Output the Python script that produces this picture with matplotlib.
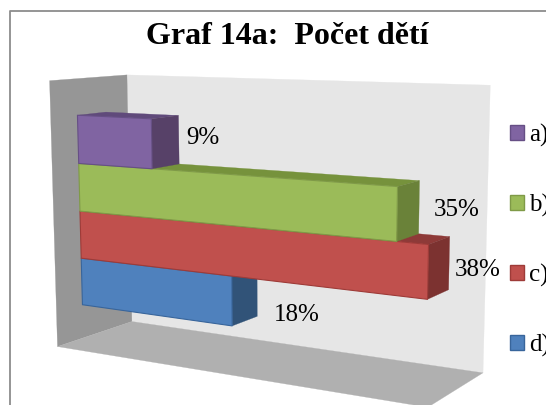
import numpy as np
import matplotlib
matplotlib.use("Agg")
import matplotlib.pyplot as plt
from matplotlib.patches import Polygon, Rectangle

# ---- data ----
title = "Graf 14a:  Počet dětí"
categories = ["d)", "c)", "b)", "a)"]
values = [18, 38, 35, 9]
axis_max = 40

# ---- styles ----
front_cols = ["#4F81BD", "#C0504D", "#9BBB59", "#8064A2"]
top_cols = ["#3A5F8C", "#8E3A38", "#76923C", "#604A7B"]
side_cols = ["#315378", "#7C3230", "#6A8239", "#574168"]
edge_cols = ["#38659B", "#9E3B38", "#7F9A47", "#664F85"]
label_xy = [(297, 315), (478, 270), (457, 210), (203, 138)]
legend_y = [335, 265, 195, 125]

# ---- camera: world (value, height, depth) -> pixel, fitted from wall / box corners ----
H0, H1 = -0.72, 4.75
D0, D1 = 0.33, 0.70
calib = [
    ((0, H0, 0), (59, 346)), ((0, H1, 0), (51, 80)),
    ((0, H0, 1), (132, 322)), ((0, H1, 1), (127, 75)),
    ((axis_max, H1, 1), (490, 86)), ((axis_max, H0, 1), (481, 372)),
    ((axis_max, H0, 0), (428, 409)),
    ((38, 1, D0), (428, 299)), ((38, 2, D0), (427, 244)),
    ((35, 2, D0), (396, 241)), ((35, 3, D0), (396, 187)),
    ((18, 0, D0), (232, 325)), ((9, 4, D0), (150.5, 120)), ((9, 3, D0), (150.5, 169)),
    ((38, 1, D1), (451, 290)), ((38, 2, D1), (451, 235)),
    ((35, 3, D1), (421, 181)), ((18, 0, D1), (258, 317)),
    ((9, 4, D1), (180, 115)), ((0, 4, D0), (77, 115)), ((0, 0, D0), (81, 305)),
    ((0, 4, D1), (105, 112)),
]
A = []
for (w, p) in calib:
    X = [w[0], w[1], w[2], 1.0]
    A.append(X + [0, 0, 0, 0] + [-p[0] * c for c in X])
    A.append([0, 0, 0, 0] + X + [-p[1] * c for c in X])
P = np.linalg.svd(np.array(A, float))[2][-1].reshape(3, 4)


def pr(v, h, d):
    q = P @ np.array([v, h, d, 1.0])
    return (q[0] / q[2], q[1] / q[2])


fig = plt.figure(figsize=(5.46, 4.05), dpi=100, facecolor="white")
ax = fig.add_axes([0, 0, 1, 1])
ax.set_xlim(0, 546)
ax.set_ylim(405, 0)
ax.axis("off")
serif = "Liberation Serif"


def poly(pts, fc, ec=None, z=1):
    ax.add_patch(Polygon(pts, closed=True, facecolor=fc, edgecolor=ec or fc,
                         linewidth=0.8 if ec else 0.2, zorder=z, joinstyle="round"))


# frame
ax.plot([10, 10, 546], [405, 11, 11], color="#8C8C8C", lw=1.3, zorder=0.5)

# walls
poly([pr(0, H0, 1), pr(0, H1, 1), pr(axis_max, H1, 1), pr(axis_max, H0, 1)], "#E6E6E6")
poly([pr(0, H0, 0), pr(0, H1, 0), pr(0, H1, 1), pr(0, H0, 1)], "#969696")
poly([pr(0, H0, 0), pr(0, H0, 1), pr(axis_max, H0, 1), pr(axis_max, H0, 0)], "#B0B0B0")

# bars, bottom up
for i, v in enumerate(values):
    z = 2 + i
    poly([pr(0, i + 1, D0), pr(v, i + 1, D0), pr(v, i + 1, D1), pr(0, i + 1, D1)], top_cols[i], z=z)
    poly([pr(v, i, D0), pr(v, i + 1, D0), pr(v, i + 1, D1), pr(v, i, D1)], side_cols[i], z=z)
    poly([pr(0, i, D0), pr(0, i + 1, D0), pr(v, i + 1, D0), pr(v, i, D0)], front_cols[i], edge_cols[i], z=z + 0.5)

# labels
for v, (x, y) in zip(values, label_xy):
    ax.text(x, y, f"{v}%", family=serif, fontsize=18, ha="center", va="center", color="black", zorder=10)

# legend
for c, col, ec, y in zip(categories, front_cols, edge_cols, legend_y):
    ax.add_patch(Rectangle((509.5, y), 14.5, 14.5, facecolor=col, edgecolor=ec, lw=1.0, zorder=10))
    ax.text(529, y + 10, c, family=serif, fontsize=18, ha="left", va="center", color="black", zorder=10)

ax.text(287, 36, title, family=serif, fontsize=23, fontweight="bold", ha="center", va="center", color="black")

fig.savefig("out.png", dpi=100)
